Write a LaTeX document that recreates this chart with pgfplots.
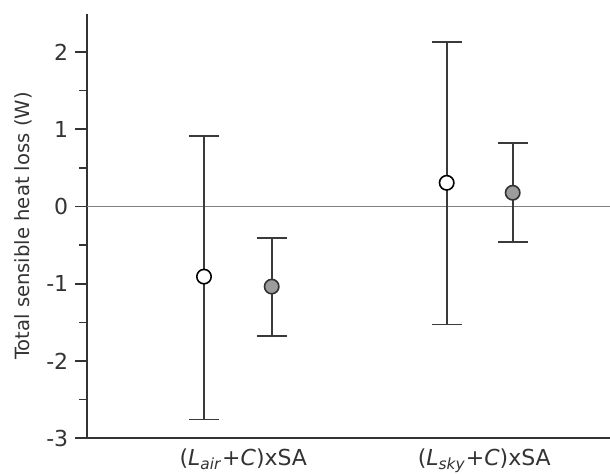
\documentclass[border=0pt]{standalone}
\usepackage{pgfplots}
\pgfplotsset{compat=1.18}
\usepackage{fontspec}
\setmainfont{DejaVu Sans}

\definecolor{axisgray}{HTML}{333333}
\definecolor{bargray}{HTML}{3A3A3A}
\definecolor{dotgray}{HTML}{9C9C9C}

\begin{document}
\begin{tikzpicture}
\begin{axis}[
    name=ax,
    scale only axis,
    width=261.35pt, height=212.15pt,
    xmin=0, xmax=5.227,
    ymin=-3, ymax=2.49,
    axis x line*=bottom,
    axis y line*=left,
    axis line style={axisgray, line width=0.8pt},
    clip=false,
    ytick={-3,-2,-1,0,1,2},
    yticklabels={-3,-2,-1,0,1,2},
    minor ytick={-2.5,-1.5,-0.5,0.5,1.5},
    tick align=outside,
    major tick length=6pt,
    minor tick length=4pt,
    ytick style={axisgray, line width=0.8pt},
    xtick={1.56,3.97},
    xticklabels={(\textit{L}\textsubscript{\textit{air}}+\textit{C})xSA,
                 (\textit{L}\textsubscript{\textit{sky}}+\textit{C})xSA},
    xtick style={draw=none},
    xticklabel style={yshift=4.5pt},
    ticklabel style={font=\fontsize{11}{13}\selectfont, text=axisgray},
    ylabel={Total sensible heat loss (W)},
    ylabel style={font=\fontsize{9.8}{12}\selectfont, text=axisgray},
    error bars/y dir=both,
    error bars/y explicit,
    error bars/error bar style={bargray, line width=0.9pt},
    error bars/error mark options={rotate=90, mark size=7.5pt, bargray, line width=0.9pt},
]
% zero reference line
\addplot[gray, line width=0.5pt, forget plot] coordinates {(0,0) (5.227,0)};

% open circles
\addplot[only marks, mark=*, mark size=3.6pt,
    mark options={fill=white, draw=black, line width=0.8pt}]
    table[x=x, y=y, y error plus=ep, y error minus=em] {
x      y       ep     em
1.167  -0.908  1.821  1.848
3.594   0.306  1.822  1.834
};

% filled grey circles
\addplot[only marks, mark=*, mark size=3.6pt,
    mark options={fill=dotgray, draw=black!80, line width=0.8pt}]
    table[x=x, y=y, y error plus=ep, y error minus=em] {
x      y       ep     em
1.844  -1.037  0.629  0.643
4.254   0.177  0.642  0.637
};
\end{axis}
\pgfresetboundingbox
\path[use as bounding box] ([xshift=-43.65pt, yshift=-17.85pt]ax.south west)
    rectangle ([yshift=7pt]ax.north east);
\end{tikzpicture}
\end{document}
